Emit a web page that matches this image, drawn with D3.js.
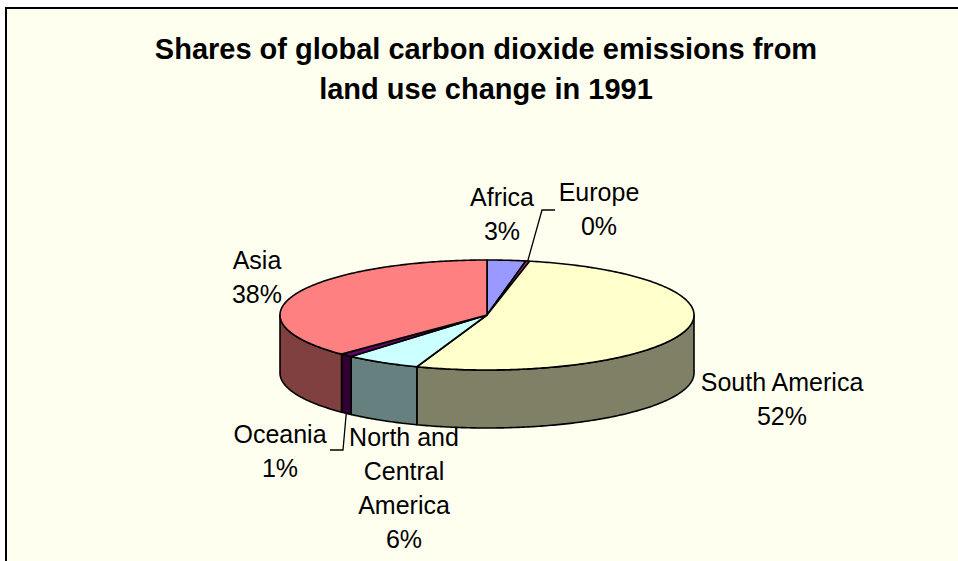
<!DOCTYPE html>
<html>
<head>
<meta charset="utf-8">
<script src="https://cdn.jsdelivr.net/npm/d3@7"></script>
<style>
  html, body { margin: 0; padding: 0; background: #ffffff; }
  svg { display: block; }
  text { font-family: Arial, "Liberation Sans", sans-serif; fill: #000; }
</style>
</head>
<body>
<div id="chart"></div>
<script>
// ---- data ----
const titleLines = ["Shares of global carbon dioxide emissions from", "land use change in 1991"];
const categories = ["Africa", "Europe", "South America", "North and Central America", "Oceania", "Asia"];
const shares = [3.0, 0.3, 52.2, 5.9, 1.0, 37.6];
const topColors = ["#9999FF", "#993366", "#FFFFCC", "#CCFFFF", "#660066", "#FF8080"];
const sideColors = ["#4D4D80", "#4D1A33", "#808066", "#668080", "#330033", "#804040"];

// ---- layout (positions / sizes, kept apart from the data) ----
const W = 958, H = 561;
const pie3d = { cx: 487, cy: 315, rx: 207, ry: 55, depth: 58 };
const labelFont = 25, lineH = 34;
const labelLayout = {
  "Africa": { x: 502, y: 206 },
  "Europe": { x: 599, y: 201, leader: [[555, 210], [542, 210]] },
  "South America": { x: 782, y: 391 },
  "North and Central America": { x: 404, y: 446, wrap: 130 },
  "Oceania": { x: 280, y: 443, leader: [[330, 450], [343, 450]] },
  "Asia": { x: 257, y: 269 }
};

const svg = d3.select("#chart").append("svg").attr("width", W).attr("height", H);

// chart area
svg.append("rect").attr("x", 6).attr("y", 8).attr("width", 1000).attr("height", 700)
  .attr("fill", "#FFFFF0").attr("stroke", "#000").attr("stroke-width", 2);

// title
svg.append("g").selectAll("text").data(titleLines).join("text")
  .attr("x", 486).attr("y", (d, i) => 59 + i * 40)
  .attr("text-anchor", "middle").attr("font-size", 29).attr("font-weight", "bold")
  .text(d => d);

// pie layout
const total = d3.sum(shares);
const data = categories.map((c, i) => ({ name: c, value: shares[i], i }));
const arcs = d3.pie().sort(null).value(d => d.value).startAngle(0).endAngle(2 * Math.PI)(data);
const color = d3.scaleOrdinal().domain(categories).range(topColors);
const sideColor = d3.scaleOrdinal().domain(categories).range(sideColors);

const px = a => pie3d.cx + pie3d.rx * Math.sin(a);
const py = a => pie3d.cy - pie3d.ry * Math.cos(a);
const line = d3.line();
function sample(a0, a1) {
  const n = Math.max(2, Math.ceil(Math.abs(a1 - a0) * 80));
  return d3.range(n + 1).map(k => a0 + (a1 - a0) * k / n);
}

const gPie = svg.append("g");

// side walls (front half only: angles between PI/2 and 3PI/2)
arcs.forEach(d => {
  const a0 = Math.max(d.startAngle, Math.PI / 2);
  const a1 = Math.min(d.endAngle, 3 * Math.PI / 2);
  if (a1 <= a0) return;
  const angs = sample(a0, a1);
  const topPts = angs.map(a => [px(a), py(a)]);
  const botPts = angs.slice().reverse().map(a => [px(a), py(a) + pie3d.depth]);
  gPie.append("path")
    .attr("d", line(topPts.concat(botPts)) + "Z")
    .attr("fill", sideColor(d.data.name))
    .attr("stroke", "#000").attr("stroke-width", 1.6).attr("stroke-linejoin", "round");
});

// top faces
arcs.forEach(d => {
  const pts = [[pie3d.cx, pie3d.cy]].concat(sample(d.startAngle, d.endAngle).map(a => [px(a), py(a)]));
  gPie.append("path")
    .attr("d", line(pts) + "Z")
    .attr("fill", color(d.data.name))
    .attr("stroke", "#000").attr("stroke-width", 1.6).attr("stroke-linejoin", "round");
});

// labels
const gLab = svg.append("g");
arcs.forEach(d => {
  const L = labelLayout[d.data.name];
  const pct = Math.round(d.data.value / total * 100) + "%";
  let lines = [d.data.name];
  if (L.wrap) {
    // simple word wrap by measured width
    const words = d.data.name.split(" ");
    const probe = gLab.append("text").attr("font-size", labelFont);
    lines = [];
    let cur = "";
    words.forEach(w => {
      const t = cur ? cur + " " + w : w;
      probe.text(t);
      if (probe.node().getComputedTextLength() > L.wrap && cur) { lines.push(cur); cur = w; }
      else cur = t;
    });
    lines.push(cur);
    probe.remove();
  }
  lines.push(pct);
  gLab.append("g").selectAll("text").data(lines).join("text")
    .attr("x", L.x).attr("y", (t, k) => L.y + k * lineH)
    .attr("text-anchor", "middle").attr("font-size", labelFont)
    .text(t => t);

  if (L.leader) {
    const mid = (d.startAngle + d.endAngle) / 2;
    const front = Math.cos(mid) < 0;
    const end = [px(mid), py(mid) + (front ? pie3d.depth : 0)];
    gLab.append("path")
      .attr("d", line(L.leader.concat([end])))
      .attr("fill", "none").attr("stroke", "#000").attr("stroke-width", 1.3);
  }
});
</script>
</body>
</html>
